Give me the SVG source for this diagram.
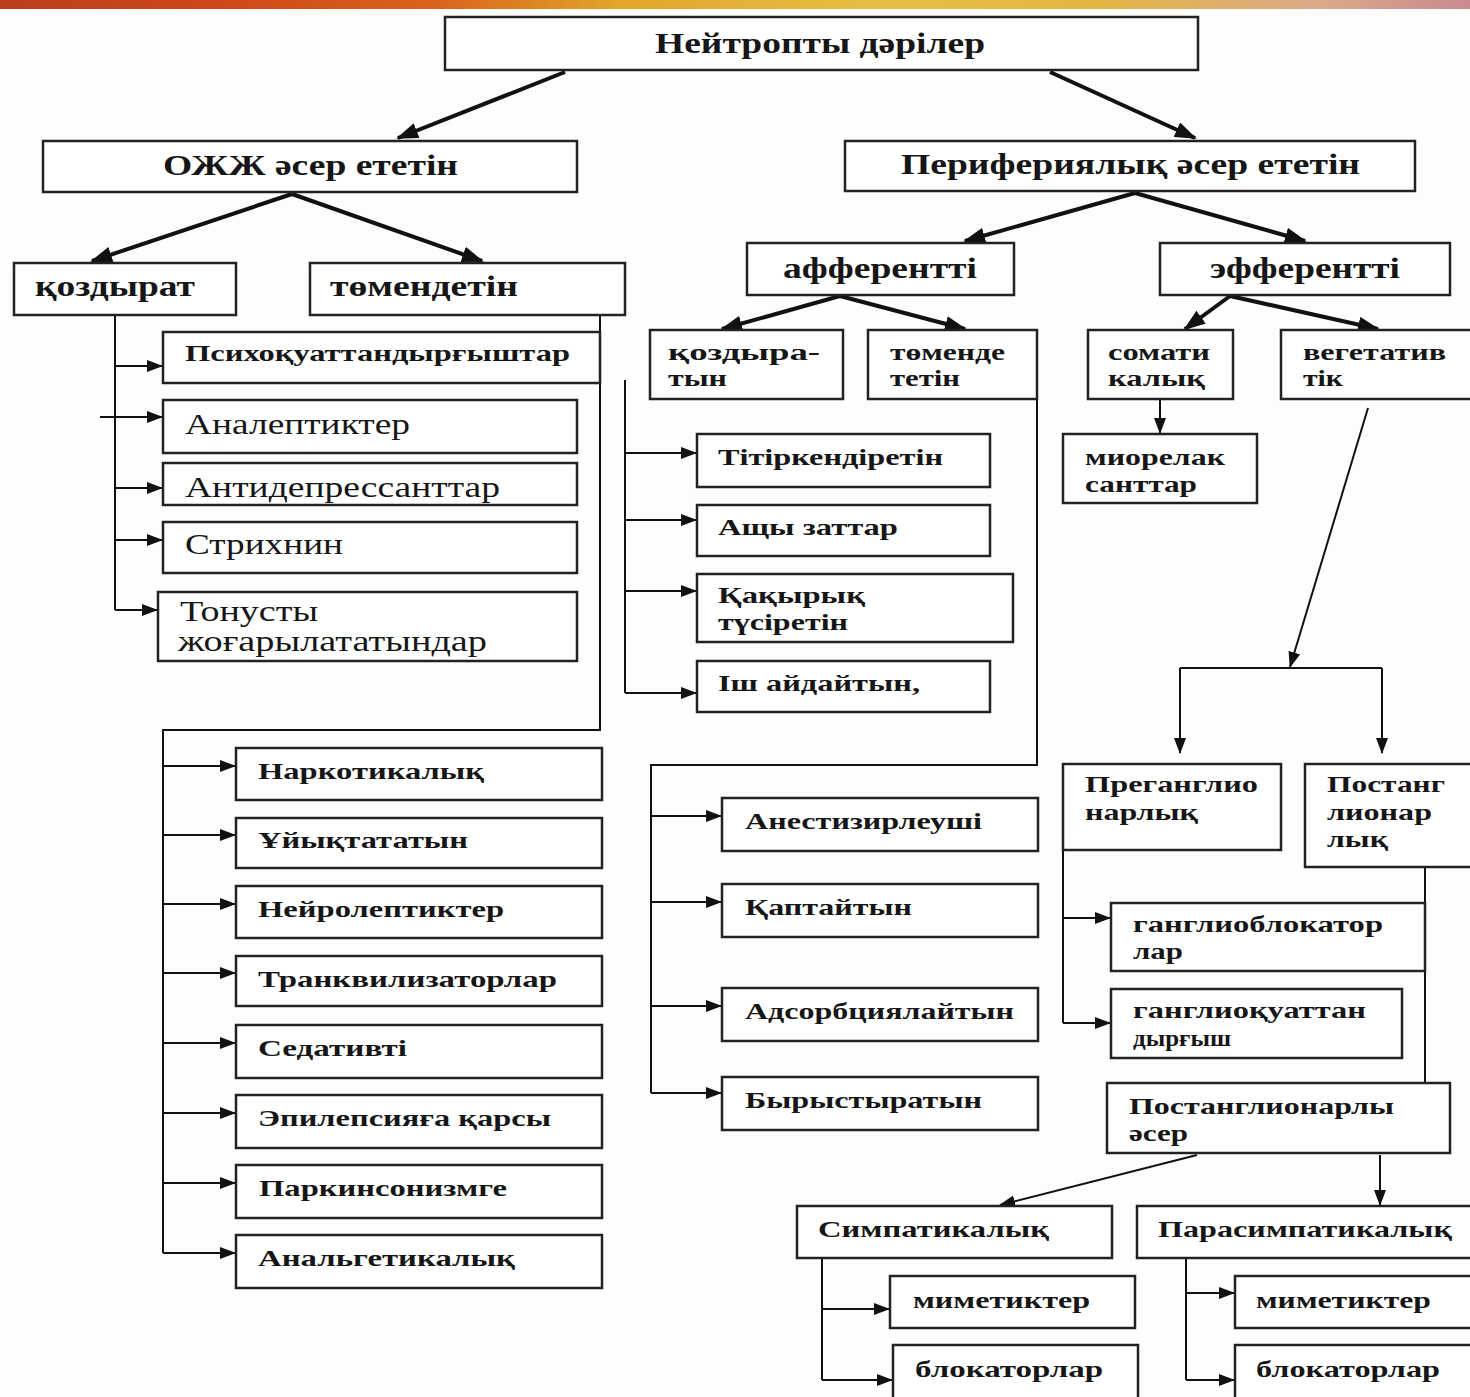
<svg xmlns="http://www.w3.org/2000/svg" width="1470" height="1397" viewBox="0 0 1470 1397">
<defs>
<linearGradient id="band" x1="0" y1="0" x2="1" y2="0">
<stop offset="0" stop-color="#b8401c"/>
<stop offset="0.15" stop-color="#d0461a"/>
<stop offset="0.3" stop-color="#d9641c"/>
<stop offset="0.42" stop-color="#e2a52a"/>
<stop offset="0.6" stop-color="#e6c043"/>
<stop offset="0.75" stop-color="#e3b545"/>
<stop offset="0.9" stop-color="#d9a98a"/>
<stop offset="1" stop-color="#c98a8e"/>
</linearGradient>
<marker id="a" markerUnits="userSpaceOnUse" markerWidth="16" markerHeight="12" refX="15" refY="6" orient="auto">
<path d="M0,0 L16,6 L0,12 Z" fill="#111"/>
</marker>
<marker id="ab" markerUnits="userSpaceOnUse" markerWidth="22" markerHeight="16" refX="20" refY="8" orient="auto">
<path d="M0,0 L22,8 L0,16 Z" fill="#111"/>
</marker>
<style>
.box{fill:#fff;stroke:#222;stroke-width:2.5}
.t{font-family:"Liberation Serif","DejaVu Serif",serif;font-weight:bold;fill:#161616}
.r{font-family:"Liberation Serif","DejaVu Serif",serif;font-weight:normal;fill:#161616}
.s22{font-size:24px}
.s27{font-size:29px}
.c{stroke:#111;stroke-width:2;fill:none}
.ck{stroke:#111;stroke-width:4;fill:none}
.arr{marker-end:url(#a)}
.arrb{marker-end:url(#ab)}
</style>
</defs>
<rect x="0" y="0" width="1470" height="1397" fill="#fdfdfd"/>
<rect x="0" y="0" width="1470" height="9" fill="url(#band)"/>

<g id="connectors">
<line class="ck arrb" x1="565" y1="72" x2="398" y2="138"/>
<line class="ck arrb" x1="1050" y1="72" x2="1195" y2="138"/>
<line class="ck arrb" x1="292" y1="194" x2="92" y2="261"/>
<line class="ck arrb" x1="292" y1="194" x2="482" y2="261"/>
<line class="ck arrb" x1="1135" y1="193" x2="965" y2="241"/>
<line class="ck arrb" x1="1135" y1="193" x2="1305" y2="241"/>
<line class="ck arrb" x1="840" y1="296" x2="722" y2="329"/>
<line class="ck arrb" x1="840" y1="296" x2="965" y2="329"/>
<line class="ck arrb" x1="1230" y1="296" x2="1185" y2="329"/>
<line class="ck arrb" x1="1230" y1="296" x2="1378" y2="329"/>
<line class="c arr" x1="1160" y1="400" x2="1160" y2="433"/>
<line class="c arr" x1="1368" y1="408" x2="1290" y2="667"/>
<polyline class="c" points="1180,668 1382,668"/>
<line class="c arr" x1="1180" y1="668" x2="1180" y2="753"/>
<line class="c arr" x1="1382" y1="668" x2="1382" y2="753"/>
<polyline class="c" points="115,315 115,610"/>
<line class="c arr" x1="115" y1="366" x2="162" y2="366"/>
<line class="c arr" x1="100" y1="417" x2="162" y2="417"/>
<line class="c arr" x1="115" y1="488" x2="162" y2="488"/>
<line class="c arr" x1="115" y1="540" x2="162" y2="540"/>
<line class="c arr" x1="115" y1="610" x2="157" y2="610"/>
<polyline class="c" points="600,315 600,730 163,730 163,1253"/>
<line class="c arr" x1="163" y1="766" x2="235" y2="766"/>
<line class="c arr" x1="163" y1="835" x2="235" y2="835"/>
<line class="c arr" x1="163" y1="904" x2="235" y2="904"/>
<line class="c arr" x1="163" y1="973" x2="235" y2="973"/>
<line class="c arr" x1="163" y1="1043" x2="235" y2="1043"/>
<line class="c arr" x1="163" y1="1113" x2="235" y2="1113"/>
<line class="c arr" x1="163" y1="1183" x2="235" y2="1183"/>
<line class="c arr" x1="163" y1="1253" x2="235" y2="1253"/>
<polyline class="c" points="625,380 625,693"/>
<line class="c arr" x1="625" y1="453" x2="696" y2="453"/>
<line class="c arr" x1="625" y1="520" x2="696" y2="520"/>
<line class="c arr" x1="625" y1="591" x2="696" y2="591"/>
<line class="c arr" x1="625" y1="693" x2="696" y2="693"/>
<polyline class="c" points="1037,399 1037,765 651,765 651,1093"/>
<line class="c arr" x1="651" y1="816" x2="721" y2="816"/>
<line class="c arr" x1="651" y1="902" x2="721" y2="902"/>
<line class="c arr" x1="651" y1="1006" x2="721" y2="1006"/>
<line class="c arr" x1="651" y1="1093" x2="721" y2="1093"/>
<polyline class="c" points="1063,850 1063,1023"/>
<line class="c arr" x1="1063" y1="918" x2="1110" y2="918"/>
<line class="c arr" x1="1063" y1="1023" x2="1110" y2="1023"/>
<polyline class="c" points="1425,867 1425,1083"/>
<line class="c arr" x1="1197" y1="1155" x2="1000" y2="1205"/>
<line class="c arr" x1="1380" y1="1155" x2="1380" y2="1205"/>
<polyline class="c" points="822,1258 822,1380"/>
<line class="c arr" x1="822" y1="1309" x2="889" y2="1309"/>
<line class="c arr" x1="822" y1="1380" x2="892" y2="1380"/>
<polyline class="c" points="1186,1258 1186,1380"/>
<line class="c arr" x1="1186" y1="1293" x2="1234" y2="1293"/>
<line class="c arr" x1="1186" y1="1380" x2="1234" y2="1380"/>
</g>

<g id="n-root"><rect class="box" x="445" y="17" width="753" height="53"/><text class="t s27" x="655" y="53" textLength="330" lengthAdjust="spacingAndGlyphs">Нейтропты дәрілер</text></g>
<g id="n-ozhzh"><rect class="box" x="43" y="141" width="534" height="51"/><text class="t s27" x="163" y="175" textLength="295" lengthAdjust="spacingAndGlyphs">ОЖЖ әсер ететін</text></g>
<g id="n-periph"><rect class="box" x="845" y="141" width="570" height="50"/><text class="t s27" x="901" y="174" textLength="459" lengthAdjust="spacingAndGlyphs">Перифериялық әсер ететін</text></g>
<g id="n-kozdyrat"><rect class="box" x="14" y="263" width="222" height="52"/><text class="t s27" x="35" y="296" textLength="160" lengthAdjust="spacingAndGlyphs">қоздырат</text></g>
<g id="n-tomendetin"><rect class="box" x="310" y="263" width="315" height="52"/><text class="t s27" x="330" y="296" textLength="188" lengthAdjust="spacingAndGlyphs">төмендетін</text></g>
<g id="n-afferent"><rect class="box" x="747" y="243" width="267" height="52"/><text class="t s27" x="783" y="278" textLength="194" lengthAdjust="spacingAndGlyphs">афферентті</text></g>
<g id="n-efferent"><rect class="box" x="1160" y="243" width="290" height="52"/><text class="t s27" x="1210" y="278" textLength="190" lengthAdjust="spacingAndGlyphs">эфферентті</text></g>
<g id="n-aff-koz"><rect class="box" x="650" y="330" width="193" height="69"/><text class="t s22" x="668" y="360" textLength="152" lengthAdjust="spacingAndGlyphs">қоздыра-</text><text class="t s22" x="668" y="386" textLength="59" lengthAdjust="spacingAndGlyphs">тын</text></g>
<g id="n-aff-tom"><rect class="box" x="868" y="330" width="169" height="69"/><text class="t s22" x="890" y="360" textLength="115" lengthAdjust="spacingAndGlyphs">төменде</text><text class="t s22" x="890" y="386" textLength="70" lengthAdjust="spacingAndGlyphs">тетін</text></g>
<g id="n-somatic"><rect class="box" x="1088" y="330" width="145" height="69"/><text class="t s22" x="1108" y="360" textLength="102" lengthAdjust="spacingAndGlyphs">сомати</text><text class="t s22" x="1108" y="386" textLength="97" lengthAdjust="spacingAndGlyphs">калық</text></g>
<g id="n-veget"><rect class="box" x="1281" y="330" width="195" height="69"/><text class="t s22" x="1303" y="360" textLength="143" lengthAdjust="spacingAndGlyphs">вегетатив</text><text class="t s22" x="1303" y="386" textLength="40" lengthAdjust="spacingAndGlyphs">тік</text></g>
<g id="n-mio"><rect class="box" x="1063" y="434" width="194" height="69"/><text class="t s22" x="1085" y="465" textLength="140" lengthAdjust="spacingAndGlyphs">миорелак</text><text class="t s22" x="1085" y="492" textLength="112" lengthAdjust="spacingAndGlyphs">санттар</text></g>

<g id="n-psycho"><rect class="box" x="163" y="332" width="437" height="51"/><text class="t s22" x="185" y="361" textLength="385" lengthAdjust="spacingAndGlyphs">Психоқуаттандырғыштар</text></g>
<g id="n-analept"><rect class="box" x="163" y="400" width="414" height="53"/><text class="r s27" x="185" y="434" textLength="225" lengthAdjust="spacingAndGlyphs">Аналептиктер</text></g>
<g id="n-antidep"><rect class="box" x="163" y="463" width="414" height="42"/><text class="r s27" x="185" y="497" textLength="315" lengthAdjust="spacingAndGlyphs">Антидепрессанттар</text></g>
<g id="n-strych"><rect class="box" x="163" y="522" width="414" height="51"/><text class="r s27" x="185" y="554" textLength="158" lengthAdjust="spacingAndGlyphs">Стрихнин</text></g>
<g id="n-tonus"><rect class="box" x="158" y="592" width="419" height="69"/><text class="r s27" x="180" y="621" textLength="138" lengthAdjust="spacingAndGlyphs">Тонусты</text><text class="r s27" x="178" y="651" textLength="309" lengthAdjust="spacingAndGlyphs">жоғарылататындар</text></g>

<g id="n-narc"><rect class="box" x="236" y="748" width="366" height="52"/><text class="t s22" x="258" y="779" textLength="226" lengthAdjust="spacingAndGlyphs">Наркотикалық</text></g>
<g id="n-sleep"><rect class="box" x="236" y="818" width="366" height="50"/><text class="t s22" x="258" y="848" textLength="210" lengthAdjust="spacingAndGlyphs">Ұйықтататын</text></g>
<g id="n-neurolept"><rect class="box" x="236" y="886" width="366" height="52"/><text class="t s22" x="258" y="917" textLength="246" lengthAdjust="spacingAndGlyphs">Нейролептиктер</text></g>
<g id="n-tranq"><rect class="box" x="236" y="956" width="366" height="50"/><text class="t s22" x="258" y="987" textLength="299" lengthAdjust="spacingAndGlyphs">Транквилизаторлар</text></g>
<g id="n-sedat"><rect class="box" x="236" y="1025" width="366" height="53"/><text class="t s22" x="258" y="1056" textLength="149" lengthAdjust="spacingAndGlyphs">Седативті</text></g>
<g id="n-epil"><rect class="box" x="236" y="1095" width="366" height="53"/><text class="t s22" x="258" y="1126" textLength="293" lengthAdjust="spacingAndGlyphs">Эпилепсияға қарсы</text></g>
<g id="n-park"><rect class="box" x="236" y="1165" width="366" height="53"/><text class="t s22" x="259" y="1196" textLength="248" lengthAdjust="spacingAndGlyphs">Паркинсонизмге</text></g>
<g id="n-analg"><rect class="box" x="236" y="1235" width="366" height="53"/><text class="t s22" x="258" y="1266" textLength="257" lengthAdjust="spacingAndGlyphs">Анальгетикалық</text></g>

<g id="n-irrit"><rect class="box" x="697" y="434" width="293" height="53"/><text class="t s22" x="718" y="465" textLength="225" lengthAdjust="spacingAndGlyphs">Тітіркендіретін</text></g>
<g id="n-bitter"><rect class="box" x="697" y="505" width="293" height="51"/><text class="t s22" x="718" y="535" textLength="180" lengthAdjust="spacingAndGlyphs">Ащы заттар</text></g>
<g id="n-expect"><rect class="box" x="697" y="574" width="316" height="68"/><text class="t s22" x="718" y="603" textLength="147" lengthAdjust="spacingAndGlyphs">Қақырық</text><text class="t s22" x="718" y="630" textLength="130" lengthAdjust="spacingAndGlyphs">түсіретін</text></g>
<g id="n-laxat"><rect class="box" x="697" y="661" width="293" height="51"/><text class="t s22" x="718" y="691" textLength="202" lengthAdjust="spacingAndGlyphs">Іш айдайтын,</text></g>

<g id="n-anest"><rect class="box" x="722" y="798" width="316" height="53"/><text class="t s22" x="745" y="829" textLength="237" lengthAdjust="spacingAndGlyphs">Анестизирлеуші</text></g>
<g id="n-coat"><rect class="box" x="722" y="884" width="316" height="53"/><text class="t s22" x="745" y="915" textLength="167" lengthAdjust="spacingAndGlyphs">Қаптайтын</text></g>
<g id="n-adsorb"><rect class="box" x="722" y="988" width="316" height="53"/><text class="t s22" x="745" y="1019" textLength="269" lengthAdjust="spacingAndGlyphs">Адсорбциялайтын</text></g>
<g id="n-astring"><rect class="box" x="722" y="1077" width="316" height="53"/><text class="t s22" x="745" y="1108" textLength="237" lengthAdjust="spacingAndGlyphs">Бырыстыратын</text></g>

<g id="n-pregang"><rect class="box" x="1063" y="764" width="218" height="86"/><text class="t s22" x="1085" y="792" textLength="173" lengthAdjust="spacingAndGlyphs">Преганглио</text><text class="t s22" x="1085" y="820" textLength="113" lengthAdjust="spacingAndGlyphs">нарлық</text></g>
<g id="n-postgang"><rect class="box" x="1305" y="764" width="171" height="103"/><text class="t s22" x="1327" y="792" textLength="118" lengthAdjust="spacingAndGlyphs">Постанг</text><text class="t s22" x="1327" y="820" textLength="105" lengthAdjust="spacingAndGlyphs">лионар</text><text class="t s22" x="1327" y="847" textLength="61" lengthAdjust="spacingAndGlyphs">лық</text></g>
<g id="n-gblock"><rect class="box" x="1111" y="903" width="314" height="68"/><text class="t s22" x="1133" y="932" textLength="250" lengthAdjust="spacingAndGlyphs">ганглиоблокатор</text><text class="t s22" x="1133" y="959" textLength="50" lengthAdjust="spacingAndGlyphs">лар</text></g>
<g id="n-gstim"><rect class="box" x="1111" y="989" width="291" height="69"/><text class="t s22" x="1133" y="1018" textLength="233" lengthAdjust="spacingAndGlyphs">ганглиоқуаттан</text><text class="t s22" x="1133" y="1046" textLength="98" lengthAdjust="spacingAndGlyphs">дырғыш</text></g>
<g id="n-postact"><rect class="box" x="1107" y="1083" width="343" height="70"/><text class="t s22" x="1129" y="1114" textLength="265" lengthAdjust="spacingAndGlyphs">Постанглионарлы</text><text class="t s22" x="1129" y="1141" textLength="59" lengthAdjust="spacingAndGlyphs">әсер</text></g>
<g id="n-symp"><rect class="box" x="797" y="1206" width="315" height="52"/><text class="t s22" x="818" y="1237" textLength="231" lengthAdjust="spacingAndGlyphs">Симпатикалық</text></g>
<g id="n-parasymp"><rect class="box" x="1137" y="1206" width="340" height="52"/><text class="t s22" x="1158" y="1237" textLength="294" lengthAdjust="spacingAndGlyphs">Парасимпатикалық</text></g>
<g id="n-symp-mim"><rect class="box" x="890" y="1276" width="245" height="52"/><text class="t s22" x="913" y="1308" textLength="177" lengthAdjust="spacingAndGlyphs">миметиктер</text></g>
<g id="n-symp-block"><rect class="box" x="893" y="1345" width="245" height="60"/><text class="t s22" x="915" y="1377" textLength="188" lengthAdjust="spacingAndGlyphs">блокаторлар</text></g>
<g id="n-para-mim"><rect class="box" x="1235" y="1276" width="245" height="52"/><text class="t s22" x="1256" y="1308" textLength="175" lengthAdjust="spacingAndGlyphs">миметиктер</text></g>
<g id="n-para-block"><rect class="box" x="1235" y="1345" width="245" height="60"/><text class="t s22" x="1256" y="1377" textLength="184" lengthAdjust="spacingAndGlyphs">блокаторлар</text></g>
</svg>
